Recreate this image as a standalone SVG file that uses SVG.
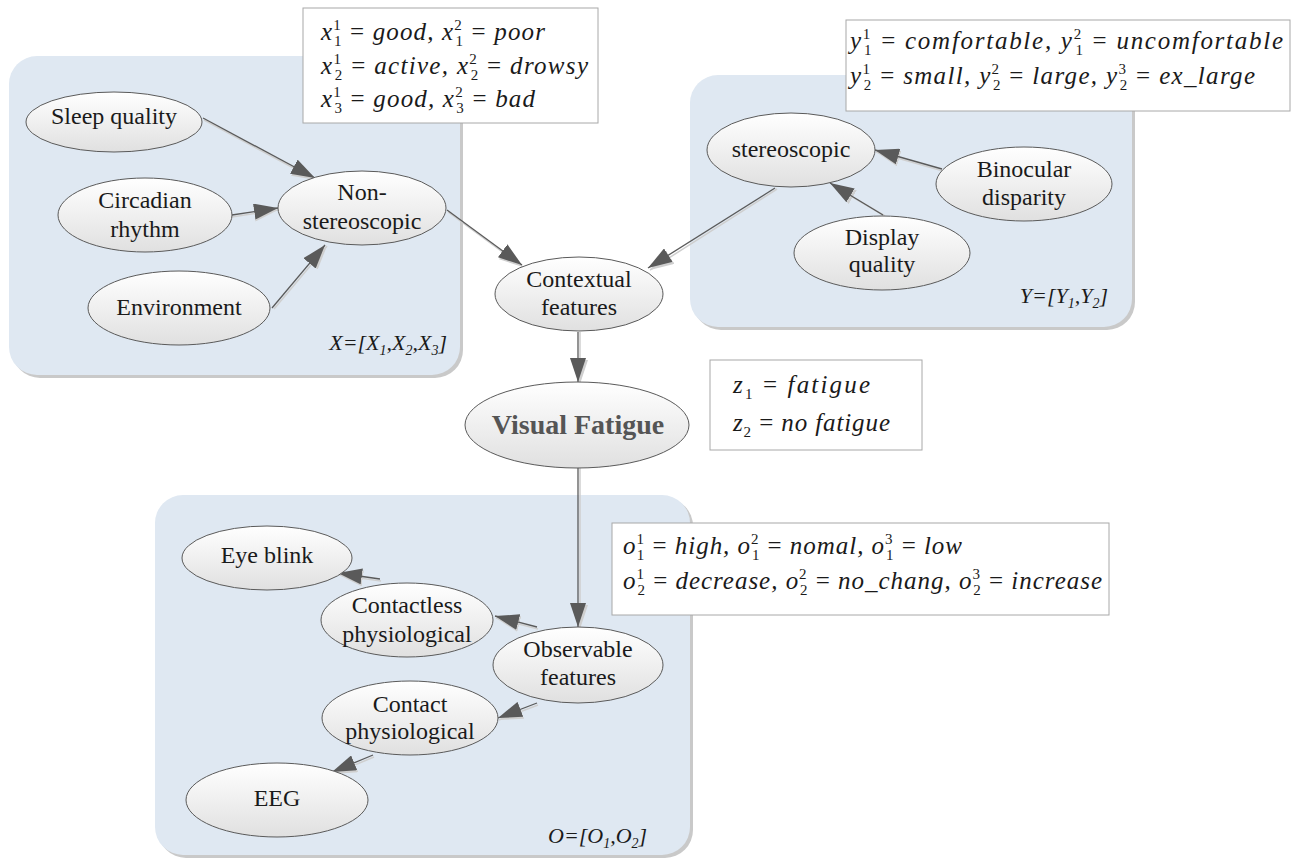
<svg xmlns="http://www.w3.org/2000/svg" width="1294" height="860" viewBox="0 0 1294 860">
<defs>
<linearGradient id="eg" x1="0" y1="0" x2="0" y2="1">
<stop offset="0" stop-color="#ffffff"/>
<stop offset="1" stop-color="#e0e0e0"/>
</linearGradient>
<marker id="ah" markerUnits="userSpaceOnUse" markerWidth="24" markerHeight="16" refX="24" refY="8" orient="auto">
<path d="M0,0 L24,8 L0,16 z" fill="#5a5a5a"/>
</marker>
<marker id="ahs" markerUnits="userSpaceOnUse" markerWidth="24" markerHeight="16" refX="24" refY="8" orient="auto">
<path d="M0,0 L24,8 L0,16 z" fill="#cfcfcf"/>
</marker>
</defs>
<style>
.panel{fill:#dfe8f2}
.pshadow{fill:#c9c9c9}
.box{fill:#ffffff;stroke:#a8a8a8;stroke-width:1}
.node ellipse{fill:url(#eg);stroke:#5a5a5a;stroke-width:1}
.t{font-family:"Liberation Serif","Times New Roman",serif;font-size:24px;fill:#1a1a1a;text-anchor:middle}
.vf{font-family:"Liberation Serif","Times New Roman",serif;font-size:28px;font-weight:bold;fill:#555555;text-anchor:middle}
.lbl{font-family:"Liberation Serif","Times New Roman",serif;font-size:22px;font-style:italic;fill:#1a1a1a}
.lbl .sb{font-size:14px}
.m{font-family:"Liberation Serif","Times New Roman",serif;font-style:italic;font-size:25px;fill:#1a1a1a}
.m .d{font-style:normal;font-size:15px}
.m .u{font-style:normal}
.c line{stroke:#5a5a5a;stroke-width:1.3;marker-end:url(#ah)}
.cs line{stroke:#cfcfcf;stroke-width:1.5;marker-end:url(#ahs)}
</style>

<g id="panels">
<rect class="pshadow" x="12" y="59" width="451" height="319" rx="28"/>
<rect class="panel" x="9" y="56" width="451" height="319" rx="28"/>
<rect class="pshadow" x="693" y="78" width="442" height="252" rx="28"/>
<rect class="panel" x="690" y="75" width="442" height="252" rx="28"/>
<rect class="pshadow" x="158" y="498" width="535" height="360" rx="28"/>
<rect class="panel" x="155" y="495" width="535" height="360" rx="28"/>
</g>

<g id="panel-labels">
<text class="lbl" x="447" y="350" text-anchor="end">X=[X<tspan class="sb" dy="5">1</tspan><tspan dy="-5">,X</tspan><tspan class="sb" dy="5">2</tspan><tspan dy="-5">,X</tspan><tspan class="sb" dy="5">3</tspan><tspan dy="-5">]</tspan></text>
<text class="lbl" x="1108" y="303" text-anchor="end">Y=[Y<tspan class="sb" dy="5">1</tspan><tspan dy="-5">,Y</tspan><tspan class="sb" dy="5">2</tspan><tspan dy="-5">]</tspan></text>
<text class="lbl" x="548" y="843">O=[O<tspan class="sb" dy="5">1</tspan><tspan dy="-5">,O</tspan><tspan class="sb" dy="5">2</tspan><tspan dy="-5">]</tspan></text>
</g>

<g id="connectors-shadow" class="cs">
<line x1="204" y1="120" x2="316" y2="180"/>
<line x1="232" y1="217" x2="278" y2="210"/>
<line x1="274" y1="309" x2="327" y2="246"/>
<line x1="448" y1="212" x2="523" y2="267"/>
<line x1="777" y1="189" x2="650" y2="270"/>
<line x1="943" y1="171" x2="876" y2="152"/>
<line x1="885" y1="216" x2="832" y2="185"/>
<line x1="580" y1="332" x2="580" y2="384"/>
<line x1="580" y1="468" x2="580" y2="629"/>
<line x1="381" y1="581" x2="339" y2="575"/>
<line x1="538" y1="629" x2="496" y2="618"/>
<line x1="538" y1="705" x2="499" y2="720"/>
<line x1="374" y1="757" x2="333" y2="774"/>
</g>

<g id="connectors" class="c">
<line x1="203" y1="118" x2="315" y2="178"/>
<line x1="232" y1="215" x2="278" y2="208"/>
<line x1="272" y1="308" x2="325" y2="245"/>
<line x1="447" y1="210" x2="522" y2="265"/>
<line x1="775" y1="188" x2="648" y2="268"/>
<line x1="942" y1="169" x2="875" y2="150"/>
<line x1="883" y1="215" x2="830" y2="183"/>
<line x1="578" y1="332" x2="578" y2="382"/>
<line x1="578" y1="468" x2="578" y2="627"/>
<line x1="380" y1="579" x2="338" y2="573"/>
<line x1="537" y1="627" x2="495" y2="616"/>
<line x1="537" y1="703" x2="498" y2="718"/>
<line x1="373" y1="755" x2="332" y2="772"/>
</g>

<g id="n-sleep" class="node"><ellipse cx="114" cy="122" rx="88" ry="30"/><text class="t" x="114" y="124">Sleep quality</text></g>
<g id="n-circadian" class="node"><ellipse cx="145" cy="215" rx="87" ry="37"/><text class="t" x="145" y="208">Circadian</text><text class="t" x="145" y="237">rhythm</text></g>
<g id="n-nonstereo" class="node"><ellipse cx="362" cy="208" rx="84" ry="37"/><text class="t" x="362" y="200">Non-</text><text class="t" x="362" y="229">stereoscopic</text></g>
<g id="n-environment" class="node"><ellipse cx="179" cy="308" rx="91" ry="37"/><text class="t" x="179" y="315">Environment</text></g>

<g id="n-stereo" class="node"><ellipse cx="791" cy="150" rx="84" ry="37"/><text class="t" x="791" y="157">stereoscopic</text></g>
<g id="n-binocular" class="node"><ellipse cx="1024" cy="184" rx="88" ry="37"/><text class="t" x="1024" y="177">Binocular</text><text class="t" x="1024" y="205">disparity</text></g>
<g id="n-display" class="node"><ellipse cx="882" cy="253" rx="88" ry="37"/><text class="t" x="882" y="245">Display</text><text class="t" x="882" y="272">quality</text></g>

<g id="n-contextual" class="node"><ellipse cx="579" cy="294" rx="84" ry="37"/><text class="t" x="579" y="287">Contextual</text><text class="t" x="579" y="315">features</text></g>
<g id="n-visual" class="node"><ellipse cx="577" cy="425" rx="112" ry="43"/><text class="vf" x="578" y="434">Visual Fatigue</text></g>

<g id="n-eyeblink" class="node"><ellipse cx="267" cy="558" rx="85" ry="32"/><text class="t" x="267" y="563">Eye blink</text></g>
<g id="n-contactless" class="node"><ellipse cx="407" cy="620" rx="86" ry="37"/><text class="t" x="407" y="613">Contactless</text><text class="t" x="407" y="642">physiological</text></g>
<g id="n-observable" class="node"><ellipse cx="578" cy="665" rx="85" ry="38"/><text class="t" x="578" y="657">Observable</text><text class="t" x="578" y="685">features</text></g>
<g id="n-contact" class="node"><ellipse cx="410" cy="718" rx="88" ry="37"/><text class="t" x="410" y="712">Contact</text><text class="t" x="410" y="739">physiological</text></g>
<g id="n-eeg" class="node"><ellipse cx="277" cy="800" rx="91" ry="37"/><text class="t" x="277" y="806">EEG</text></g>

<g id="box-x">
<rect class="box" x="303" y="8" width="295" height="115"/>
<text class="m" x="321" y="40" textLength="224" lengthAdjust="spacing">x<tspan class="d" dy="-10">1</tspan><tspan class="d" dx="-7.5" dy="16">1</tspan><tspan class="u" dy="-6"> = </tspan>good, x<tspan class="d" dy="-10">2</tspan><tspan class="d" dx="-7.5" dy="16">1</tspan><tspan class="u" dy="-6"> = </tspan>poor</text>
<text class="m" x="321" y="74" textLength="267" lengthAdjust="spacing">x<tspan class="d" dy="-10">1</tspan><tspan class="d" dx="-7.5" dy="16">2</tspan><tspan class="u" dy="-6"> = </tspan>active, x<tspan class="d" dy="-10">2</tspan><tspan class="d" dx="-7.5" dy="16">2</tspan><tspan class="u" dy="-6"> = </tspan>drowsy</text>
<text class="m" x="321" y="107" textLength="214" lengthAdjust="spacing">x<tspan class="d" dy="-10">1</tspan><tspan class="d" dx="-7.5" dy="16">3</tspan><tspan class="u" dy="-6"> = </tspan>good, x<tspan class="d" dy="-10">2</tspan><tspan class="d" dx="-7.5" dy="16">3</tspan><tspan class="u" dy="-6"> = </tspan>bad</text>
</g>

<g id="box-y">
<rect class="box" x="846" y="20" width="444" height="91"/>
<text class="m" x="850" y="49" textLength="433" lengthAdjust="spacing">y<tspan class="d" dy="-10">1</tspan><tspan class="d" dx="-7.5" dy="16">1</tspan><tspan class="u" dy="-6"> = </tspan>comfortable, y<tspan class="d" dy="-10">2</tspan><tspan class="d" dx="-7.5" dy="16">1</tspan><tspan class="u" dy="-6"> = </tspan>uncomfortable</text>
<text class="m" x="850" y="84" textLength="405" lengthAdjust="spacing">y<tspan class="d" dy="-10">1</tspan><tspan class="d" dx="-7.5" dy="16">2</tspan><tspan class="u" dy="-6"> = </tspan>small, y<tspan class="d" dy="-10">2</tspan><tspan class="d" dx="-7.5" dy="16">2</tspan><tspan class="u" dy="-6"> = </tspan>large, y<tspan class="d" dy="-10">3</tspan><tspan class="d" dx="-7.5" dy="16">2</tspan><tspan class="u" dy="-6"> = </tspan>ex_large</text>
</g>

<g id="box-z">
<rect class="box" x="710" y="360" width="212" height="90"/>
<text class="m" x="733" y="393" textLength="137" lengthAdjust="spacing">z<tspan class="d" dy="6">1</tspan><tspan class="u" dy="-6"> = </tspan>fatigue</text>
<text class="m" x="733" y="431" textLength="157" lengthAdjust="spacing">z<tspan class="d" dy="6">2</tspan><tspan class="u" dy="-6"> = </tspan>no fatigue</text>
</g>

<g id="box-o">
<rect class="box" x="612" y="523" width="497" height="92"/>
<text class="m" x="623" y="554" textLength="339" lengthAdjust="spacing">o<tspan class="d" dy="-10">1</tspan><tspan class="d" dx="-7.5" dy="16">1</tspan><tspan class="u" dy="-6"> = </tspan>high, o<tspan class="d" dy="-10">2</tspan><tspan class="d" dx="-7.5" dy="16">1</tspan><tspan class="u" dy="-6"> = </tspan>nomal, o<tspan class="d" dy="-10">3</tspan><tspan class="d" dx="-7.5" dy="16">1</tspan><tspan class="u" dy="-6"> = </tspan>low</text>
<text class="m" x="623" y="589" textLength="479" lengthAdjust="spacing">o<tspan class="d" dy="-10">1</tspan><tspan class="d" dx="-7.5" dy="16">2</tspan><tspan class="u" dy="-6"> = </tspan>decrease, o<tspan class="d" dy="-10">2</tspan><tspan class="d" dx="-7.5" dy="16">2</tspan><tspan class="u" dy="-6"> = </tspan>no_chang, o<tspan class="d" dy="-10">3</tspan><tspan class="d" dx="-7.5" dy="16">2</tspan><tspan class="u" dy="-6"> = </tspan>increase</text>
</g>
</svg>
